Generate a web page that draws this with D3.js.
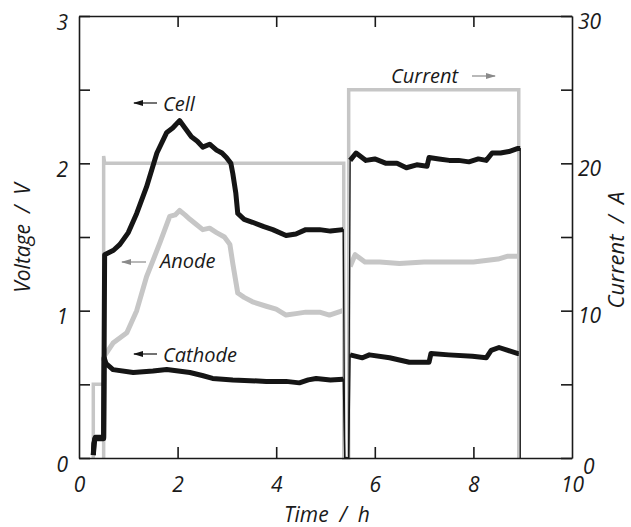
<!DOCTYPE html>
<html>
<head>
<meta charset="utf-8">
<script src="https://cdn.jsdelivr.net/npm/d3@7"></script>
<style>
  body { margin: 0; background: #fff; }
  text { font-family: "Open Sans", sans-serif; font-style: italic; fill: #1a1a1a; }
</style>
</head>
<body>
<div id="chart"></div>
<script>
// readings: time in h, voltage in V, current in A
var cellTime = [0.29, 0.32, 0.5, 0.52, 0.7, 0.83, 1.0, 1.17, 1.37, 1.58, 1.78, 1.9, 2.04, 2.15, 2.28, 2.4, 2.51, 2.65, 2.79, 2.9, 2.99, 3.08, 3.12, 3.18, 3.22, 3.35, 3.52, 3.75, 3.93, 4.2, 4.4, 4.6, 4.88, 5.1, 5.36, 5.39, 5.47, 5.5, 5.62, 5.82, 6.0, 6.23, 6.45, 6.64, 6.85, 7.06, 7.1, 7.3, 7.51, 7.7, 7.91, 8.1, 8.26, 8.38, 8.55, 8.72, 8.89, 8.95, 8.95]
var cellVolt = [0.02, 0.13, 0.13, 1.38, 1.41, 1.45, 1.53, 1.66, 1.84, 2.07, 2.21, 2.24, 2.29, 2.24, 2.18, 2.15, 2.11, 2.13, 2.09, 2.07, 2.04, 2.0, 1.93, 1.8, 1.66, 1.62, 1.6, 1.57, 1.55, 1.51, 1.52, 1.55, 1.55, 1.54, 1.55, 0, 0, 2.02, 2.07, 2.02, 2.03, 2.0, 2.0, 1.97, 1.99, 1.98, 2.04, 2.03, 2.02, 2.02, 2.01, 2.03, 2.02, 2.07, 2.07, 2.08, 2.1, 2.1, 0]

var anodeTime = [0.5, 0.51, 0.69, 0.97, 1.17, 1.37, 1.5, 1.64, 1.84, 1.95, 2.04, 2.15, 2.25, 2.4, 2.51, 2.65, 2.79, 2.95, 3.06, 3.12, 3.22, 3.35, 3.52, 3.8, 4.0, 4.2, 4.4, 4.6, 4.88, 5.08, 5.35, 5.38, 5.47, 5.5, 5.6, 5.8, 6.1, 6.5, 7.0, 7.5, 8.0, 8.5, 8.7, 8.9]
var anodeVolt = [0.66, 0.69, 0.78, 0.85, 1.0, 1.23, 1.34, 1.46, 1.64, 1.65, 1.68, 1.65, 1.62, 1.58, 1.55, 1.56, 1.53, 1.5, 1.45, 1.32, 1.12, 1.09, 1.06, 1.03, 1.01, 0.97, 0.98, 0.99, 0.99, 0.97, 1.0, 0, 0, 1.3, 1.38, 1.33, 1.33, 1.32, 1.33, 1.33, 1.33, 1.35, 1.37, 1.37]

var cathodeTime = [0.29, 0.3, 0.33, 0.5, 0.51, 0.55, 0.69, 1.1, 1.5, 1.78, 2.25, 2.5, 2.71, 3.12, 3.8, 4.2, 4.47, 4.65, 4.81, 5.1, 5.36, 5.39, 5.47, 5.5, 5.75, 5.89, 6.3, 6.7, 7.1, 7.14, 7.5, 7.98, 8.26, 8.36, 8.52, 8.7, 8.89, 8.92]
var cathodeVolt = [0.02, 0.1, 0.14, 0.14, 0.68, 0.64, 0.6, 0.58, 0.59, 0.6, 0.58, 0.56, 0.54, 0.53, 0.52, 0.52, 0.51, 0.53, 0.54, 0.53, 0.535, 0, 0, 0.7, 0.68, 0.7, 0.68, 0.65, 0.65, 0.71, 0.7, 0.69, 0.68, 0.73, 0.75, 0.73, 0.71, 0.71]

var currentTime = [0.29, 0.29, 0.5, 0.5, 0.5, 0.52, 5.37, 5.37, 5.47, 5.47, 8.92, 8.92]
var currentAmp = [0, 5, 5, 0, 20.5, 20, 20, 0, 0, 25, 25, 0]

var xTicks = [0, 2, 4, 6, 8, 10]
var voltTicks = [0, 0.5, 1, 1.5, 2, 2.5, 3]
var currentTicks = [0, 5, 10, 15, 20, 25, 30]

// page and plot area
var W = 631, H = 527
var plotL = 79, plotR = 572, plotT = 16, plotB = 458

var svg = d3.select('#chart')
  .append('svg')
  .attr('width', W)
  .attr('height', H)

var x = d3.scaleLinear().domain([0, 10]).range([plotL, plotR])
var yV = d3.scaleLinear().domain([0, 3]).range([plotB, plotT])
var yA = d3.scaleLinear().domain([0, 30]).range([plotB, plotT])

var pairs = (ts, vs) => ts.map((t, i) => [t, vs[i]])

var lineV = d3.line().x(d => x(d[0])).y(d => yV(d[1]))
// thick trace skips the zero points, so the switch-off drops stay thin
var lineVThick = d3.line().defined(d => d[1] > 0).x(d => x(d[0])).y(d => yV(d[1]))
var lineA = d3.line().x(d => x(d[0])).y(d => yA(d[1]))

var black = '#151515', grey = '#c6c6c6'

// current goes underneath the voltage traces
svg.append('path')
  .datum(pairs(currentTime, currentAmp))
  .attr('d', lineA)
  .attr('fill', 'none')
  .attr('stroke', grey)
  .attr('stroke-width', 3.5)

function voltTrace(ts, vs, col) {
  svg.append('path')
    .datum(pairs(ts, vs))
    .attr('d', lineV)
    .attr('fill', 'none')
    .attr('stroke', col)
    .attr('stroke-width', 1.3)
  svg.append('path')
    .datum(pairs(ts, vs))
    .attr('d', lineVThick)
    .attr('fill', 'none')
    .attr('stroke', col)
    .attr('stroke-width', 5)
    .attr('stroke-linejoin', 'round')
}

voltTrace(anodeTime, anodeVolt, grey)
voltTrace(cathodeTime, cathodeVolt, black)
voltTrace(cellTime, cellVolt, black)

// axes, ticks pointing inwards
function styleAxis(g) {
  g.selectAll('path, line').attr('stroke', '#1a1a1a').attr('stroke-width', 1.6)
  g.selectAll('text').attr('font-size', 21).attr('fill', '#1a1a1a')
}

svg.append('g')
  .attr('transform', `translate(0, ${plotB})`)
  .call(d3.axisBottom(x).tickValues(xTicks).tickSizeInner(-11).tickSizeOuter(0).tickPadding(19))
  .call(styleAxis)
  .call(g => g.selectAll('.tick line').filter(d => d == 0 || d == 10).remove())

svg.append('g')
  .attr('transform', `translate(0, ${plotT})`)
  .call(d3.axisTop(x).tickValues([2, 4, 6, 8]).tickSizeInner(-11).tickSizeOuter(0).tickFormat(''))
  .call(styleAxis)

svg.append('g')
  .attr('transform', `translate(${plotL}, 0)`)
  .call(d3.axisLeft(yV).tickValues(voltTicks).tickSizeInner(-11).tickSizeOuter(0).tickPadding(11)
    .tickFormat(d => Number.isInteger(d) ? d : ''))
  .call(styleAxis)
  .call(g => g.selectAll('text').attr('dy', '0.62em'))

svg.append('g')
  .attr('transform', `translate(${plotR}, 0)`)
  .call(d3.axisRight(yA).tickValues(currentTicks).tickSizeInner(-11).tickSizeOuter(0).tickPadding(6)
    .tickFormat(d => d % 10 == 0 ? d : ''))
  .call(styleAxis)
  .call(g => g.selectAll('text').attr('dy', '0.58em'))
  .call(g => g.selectAll('.tick').filter(d => d == 0).select('text').attr('x', 11).attr('dy', '0.72em'))

// axis titles
svg.append('text')
  .attr('transform', `translate(30, 238) rotate(-90)`)
  .attr('text-anchor', 'middle')
  .attr('font-size', 21)
  .style('white-space', 'pre')
  .text('Voltage  /  V')

svg.append('text')
  .attr('transform', `translate(624, 250) rotate(-90)`)
  .attr('text-anchor', 'middle')
  .attr('font-size', 22)
  .style('white-space', 'pre')
  .text('Current  /  A')

svg.append('text')
  .attr('x', 327)
  .attr('y', 522)
  .attr('text-anchor', 'middle')
  .attr('font-size', 21)
  .style('white-space', 'pre')
  .text('Time  /  h')

// labels with little arrows
svg.append('defs').selectAll('marker')
  .data([['headBlack', black], ['headGrey', '#8a8a8a']])
  .join('marker')
  .attr('id', d => d[0])
  .attr('viewBox', '0 0 10 6')
  .attr('refX', 9).attr('refY', 3)
  .attr('markerWidth', 10).attr('markerHeight', 6)
  .attr('markerUnits', 'userSpaceOnUse')
  .attr('orient', 'auto')
  .append('path')
  .attr('d', 'M0,0 L10,3 L0,6 Z')
  .attr('fill', d => d[1])

var notes = [
  { text: 'Cell', tx: 163, ty: 111, ax1: 157, ax2: 134, ay: 103, head: 'headBlack', col: black },
  { text: 'Anode', tx: 160, ty: 268, ax1: 146, ax2: 122, ay: 262, head: 'headGrey', col: '#8a8a8a' },
  { text: 'Cathode', tx: 163, ty: 362, ax1: 157, ax2: 134, ay: 354, head: 'headBlack', col: black },
  { text: 'Current', tx: 391, ty: 83, ax1: 472, ax2: 495, ay: 76, head: 'headGrey', col: '#8a8a8a' }
]

svg.selectAll('.note')
  .data(notes)
  .join('text')
  .attr('class', 'note')
  .attr('x', d => d.tx)
  .attr('y', d => d.ty)
  .attr('font-size', 20)
  .text(d => d.text)

svg.selectAll('.arrow')
  .data(notes)
  .join('line')
  .attr('class', 'arrow')
  .attr('x1', d => d.ax1).attr('x2', d => d.ax2)
  .attr('y1', d => d.ay).attr('y2', d => d.ay)
  .attr('stroke', d => d.col)
  .attr('stroke-width', 1.2)
  .attr('marker-end', d => `url(#${d.head})`)
</script>
</body>
</html>
